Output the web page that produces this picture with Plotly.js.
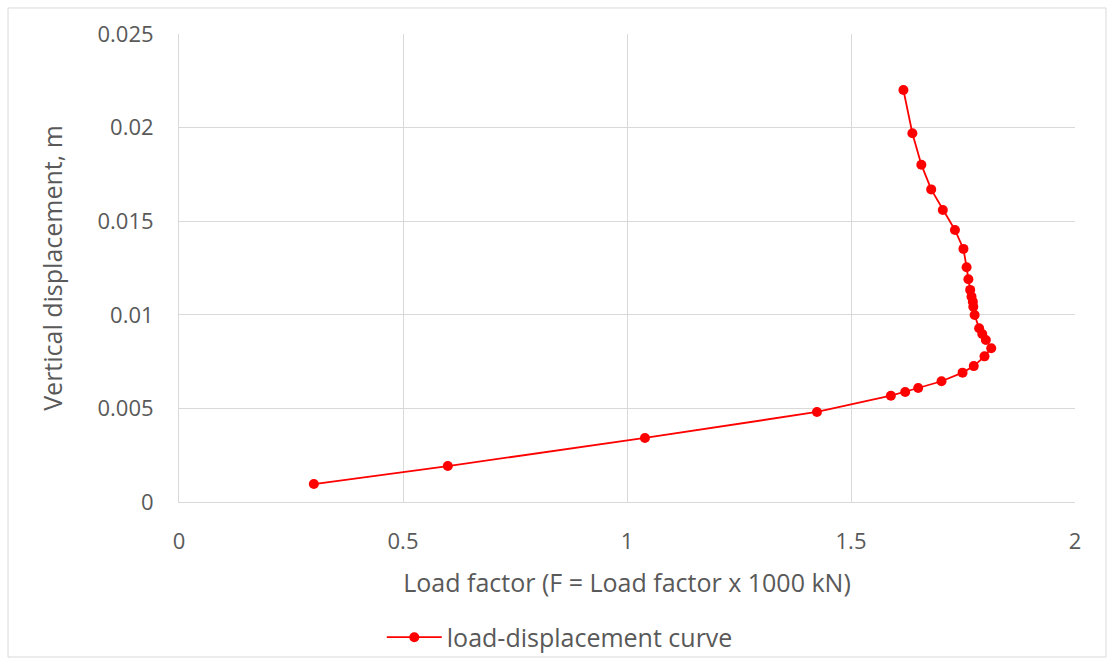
<!DOCTYPE html>
<html>
<head>
<meta charset="utf-8">
<script src="https://cdn.plot.ly/plotly-3.0.1.min.js"></script>
<style>html,body{margin:0;padding:0;background:#fff;}#chart{width:1114px;height:664px;}</style>
</head>
<body>
<div id="chart"></div>
<script>
const seriesName = "load-displacement curve";
const loadFactor = [0.301, 0.600, 1.040, 1.424, 1.589, 1.621, 1.650, 1.702, 1.749, 1.774, 1.798, 1.813, 1.801, 1.793, 1.786, 1.776, 1.773, 1.772, 1.769, 1.766, 1.762, 1.758, 1.751, 1.732, 1.705, 1.679, 1.657, 1.637, 1.617];
const displacement = [0.00096, 0.00192, 0.00342, 0.00481, 0.00568, 0.00588, 0.00609, 0.00645, 0.00691, 0.00726, 0.00778, 0.00821, 0.00865, 0.00897, 0.00928, 0.00999, 0.01043, 0.01070, 0.01097, 0.01133, 0.01190, 0.01254, 0.01352, 0.01453, 0.01560, 0.01670, 0.01802, 0.01970, 0.02201];
const xTicks = [0, 0.5, 1, 1.5, 2];
const yTicks = [0, 0.005, 0.01, 0.015, 0.02, 0.025];
const yTickText = ["0", "0.005", "0.01", "0.015", "0.02", "0.025"];

const font = "Open Sans, Liberation Sans, sans-serif";
const trace = {
  x: loadFactor, y: displacement, type: "scatter", mode: "lines+markers",
  name: seriesName,
  line: {color: "#ff0000", width: 1.8},
  marker: {color: "#ff0000", size: 10}
};
const layout = {
  width: 1114, height: 664,
  margin: {l: 179, r: 39, t: 34, b: 162, autoexpand: false},
  paper_bgcolor: "#fff", plot_bgcolor: "#fff",
  font: {family: font, color: "#595959"},
  xaxis: {
    range: [0, 2], tickvals: xTicks, ticktext: xTicks.map(String),
    showgrid: true, gridcolor: "#d9d9d9", gridwidth: 1, automargin: false,
    zeroline: false, showline: true, linecolor: "#d9d9d9", ticks: "",
    ticklabelstandoff: 20,
    tickfont: {size: 22, family: font, color: "#595959"},
    title: {text: "Load factor (F = Load factor x 1000 kN)", font: {size: 25, family: font, color: "#595959"}, standoff: 20}
  },
  yaxis: {
    range: [0, 0.025], tickvals: yTicks, ticktext: yTickText,
    showgrid: true, gridcolor: "#d9d9d9", gridwidth: 1, automargin: false,
    zeroline: false, showline: true, linecolor: "#d9d9d9", ticks: "",
    ticklabelstandoff: 20,
    tickfont: {size: 22, family: font, color: "#595959"},
    title: {text: "Vertical displacement, m", font: {size: 25, family: font, color: "#595959"}, standoff: 27}
  },
  showlegend: true,
  legend: {orientation: "h", x: 0.425, xanchor: "center", yref: "container", y: 0.04, yanchor: "middle",
    itemwidth: 55, bgcolor: "rgba(0,0,0,0)",
    font: {size: 25, family: font, color: "#595959"}},
  shapes: [{type: "rect", xref: "paper", yref: "paper", x0: -0.1908, x1: 1.0346, y0: -0.3312, y1: 1.0556,
    line: {color: "#d9d9d9", width: 1}, layer: "below"}]
};
Plotly.newPlot("chart", [trace], layout, {displayModeBar: false, staticPlot: true});
</script>
</body>
</html>
